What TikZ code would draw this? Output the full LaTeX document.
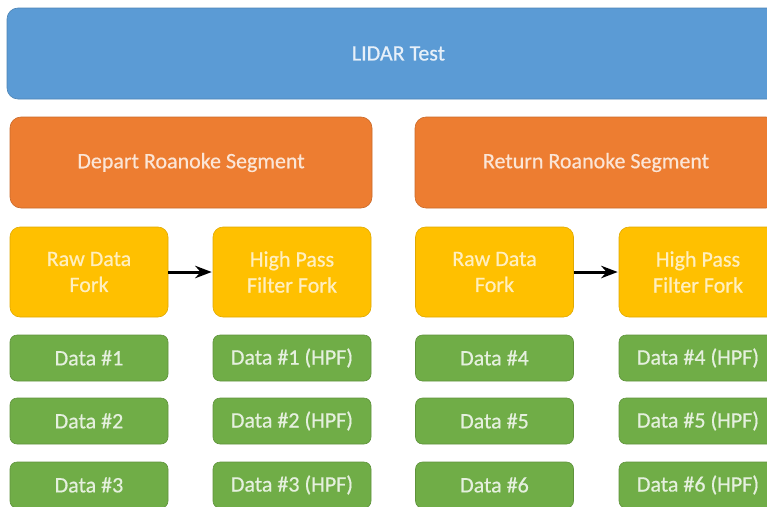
\documentclass[tikz,border=0pt]{standalone}
\usepackage{fontspec}
\setmainfont[FakeBold=0.6]{Carlito}
\usepackage{tikz}
\usetikzlibrary{arrows.meta, positioning}

\definecolor{lidarblue}{HTML}{5B9BD5}
\definecolor{segorange}{HTML}{ED7D31}
\definecolor{forkyellow}{HTML}{FFC000}
\definecolor{datagreen}{HTML}{70AD47}

\begin{document}
\begin{tikzpicture}[x=1pt, y=-1pt, >=Stealth,
  every node/.style={font=\fontsize{22}{26}\selectfont, align=center, inner sep=0pt},
  testbox/.style={fill=lidarblue, draw=lidarblue!85!black, line width=0.6pt, rounded corners=11pt,
    text=white!85!lidarblue, minimum width=783pt, minimum height=91pt},
  segbox/.style={fill=segorange, draw=segorange!85!black, line width=0.6pt, rounded corners=11pt,
    text=white!80!segorange, minimum width=362pt, minimum height=91pt},
  forkbox/.style={fill=forkyellow, draw=forkyellow!88!black, line width=0.6pt, rounded corners=10pt,
    text=white!75!forkyellow, minimum width=158pt, minimum height=90pt},
  databox/.style={fill=datagreen, draw=datagreen!85!black, line width=0.6pt, rounded corners=7pt,
    text=white!82!datagreen, minimum width=158pt, minimum height=46pt},
  forkarrow/.style={->, line width=3pt, shorten >=1pt}]
  \useasboundingbox (0,0) rectangle (767,506);
  \clip (0,0) rectangle (767,506);
  % Test
  \node[testbox] (lidar) at (398.5,53.5) {LIDAR Test};
  % Segments
  \node[segbox] (depart) at (191,162.5) {Depart Roanoke Segment};
  \node[segbox] (return) at (596,162.5) {Return Roanoke Segment};
  % Forks
  \node[forkbox] (rawdep) at (89,272) {Raw Data\\Fork};
  \node[forkbox] (hpfdep) at (292,272) {High Pass\\Filter Fork};
  \node[forkbox] (rawret) at (494.5,272) {Raw Data\\Fork};
  \node[forkbox] (hpfret) at (698,272) {High Pass\\Filter Fork};
  \draw[forkarrow] (rawdep) -- (hpfdep);
  \draw[forkarrow] (rawret) -- (hpfret);
  % Data sets, depart
  \node[databox] (data1) at (89,358) {Data \#1};
  \node[databox] (data2) at (89,421) {Data \#2};
  \node[databox] (data3) at (89,485) {Data \#3};
  \node[databox] (hpf1) at (292,358) {Data \#1 (HPF)};
  \node[databox] (hpf2) at (292,421) {Data \#2 (HPF)};
  \node[databox] (hpf3) at (292,485) {Data \#3 (HPF)};
  % Data sets, return
  \node[databox] (data4) at (494.5,358) {Data \#4};
  \node[databox] (data5) at (494.5,421) {Data \#5};
  \node[databox] (data6) at (494.5,485) {Data \#6};
  \node[databox] (hpf4) at (698,358) {Data \#4 (HPF)};
  \node[databox] (hpf5) at (698,421) {Data \#5 (HPF)};
  \node[databox] (hpf6) at (698,485) {Data \#6 (HPF)};
\end{tikzpicture}
\end{document}
